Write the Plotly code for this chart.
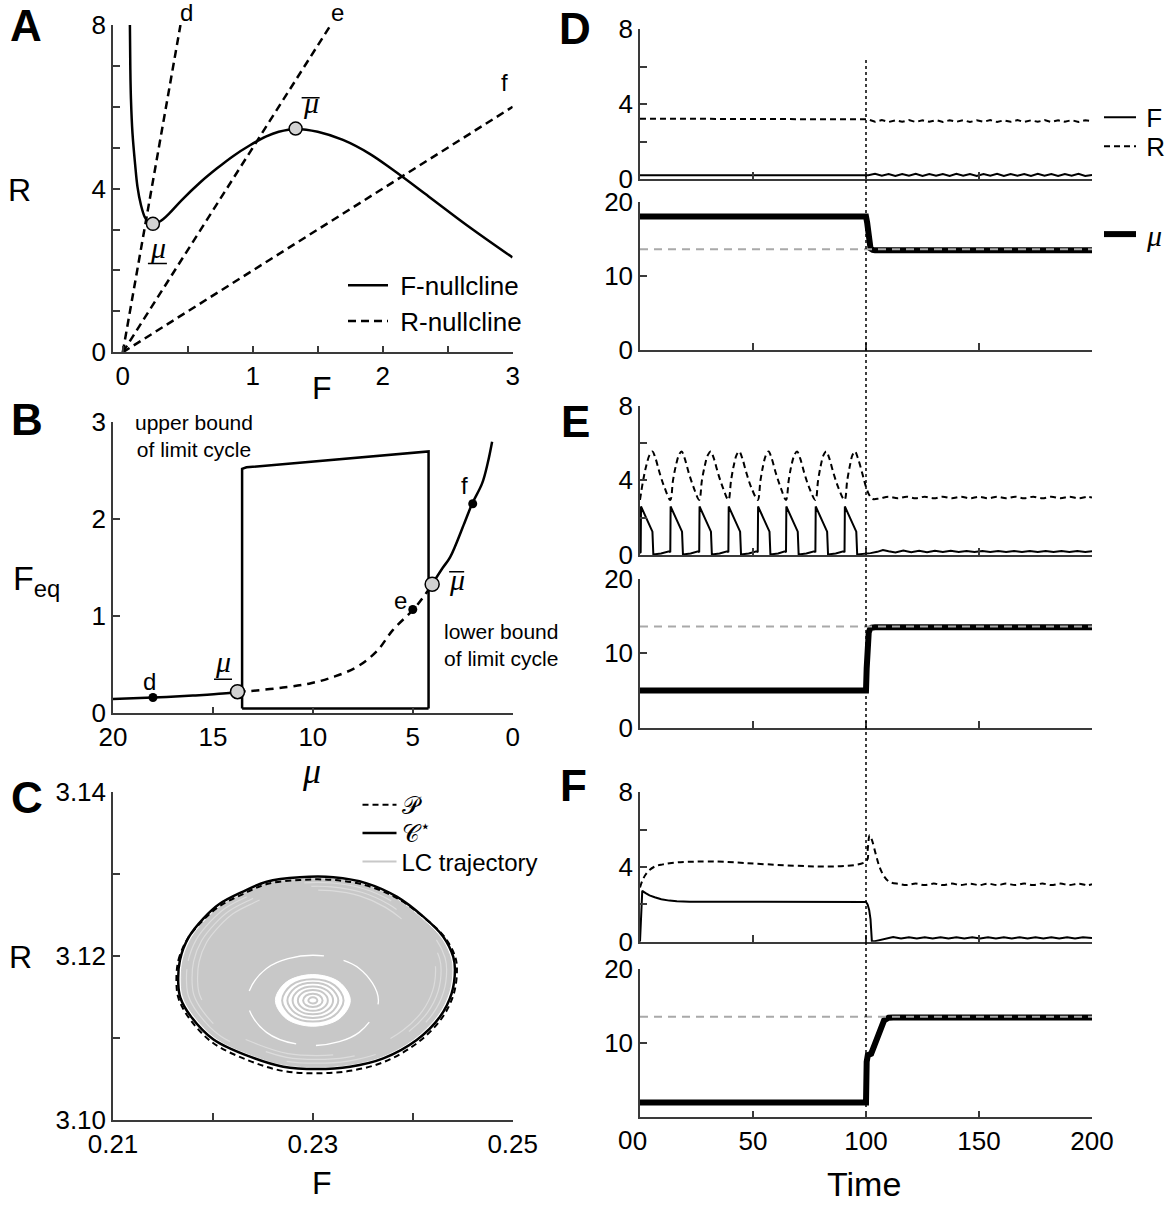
import plotly.graph_objects as go

W, H = 1171, 1205
SANS = "Liberation Sans, Arial, Helvetica, sans-serif"
SERIF = "Liberation Serif, Times New Roman, serif"
AXC = "#3a3a3a"
LCG = "#c8c8c8"
THG = "#a9a9a9"
NB = "\u00a0"

# ---------------- Panel A : nullclines ----------------
fnull_F = [0.055, 0.058, 0.063, 0.075, 0.095, 0.113, 0.14, 0.17, 0.20, 0.232, 0.27, 0.31, 0.36,
           0.454, 0.595, 0.723, 0.851, 0.979, 1.10, 1.20, 1.336, 1.50, 1.694, 1.90, 2.078, 2.353, 2.65, 2.998]
fnull_R = [8.0, 7.0, 6.2, 5.35, 4.6, 4.05, 3.6, 3.3, 3.17, 3.14, 3.17, 3.25, 3.40,
           3.72, 4.15, 4.49, 4.80, 5.06, 5.27, 5.39, 5.46, 5.39, 5.19, 4.85, 4.46, 3.81, 3.10, 2.32]
rnull_names = ["d", "e", "f"]
rnull_F_start = [0.0, 0.0, 0.0]
rnull_R_start = [0.0, 0.0, 0.0]
rnull_F_end = [0.444, 1.6, 3.0]
rnull_R_end = [8.0, 8.0, 6.0]
bifA_F = [0.232, 1.33]
bifA_R = [3.14, 5.47]

# ---------------- Panel B : bifurcation diagram ----------------
lowstab_mu = [20, 18, 16, 14.5, 13.77]
lowstab_F = [0.147, 0.163, 0.183, 0.203, 0.223]
unstab_mu = [13.77, 13.14, 11.5, 10.1, 8.9, 7.78, 6.8, 5.99, 4.97, 4.5, 4.03]
unstab_F = [0.223, 0.23, 0.265, 0.31, 0.38, 0.48, 0.64, 0.86, 1.07, 1.19, 1.33]
upstab_mu = [4.03, 3.5, 3.13, 2.42, 2.03, 1.53, 1.25, 1.03]
upstab_F = [1.33, 1.50, 1.61, 1.96, 2.16, 2.37, 2.58, 2.80]
lcup_mu = [13.54, 13.54, 13.32, 4.21, 4.21]
lcup_F = [0.05, 2.52, 2.536, 2.70, 0.05]
lclow_mu = [13.54, 4.21]
lclow_F = [0.05, 0.05]
pts_names = ["d", "e", "f"]
pts_mu = [18, 5, 2]
pts_F = [0.163, 1.07, 2.16]
bifB_mu = [13.77, 4.03]
bifB_F = [0.223, 1.33]

# ---------------- Panel C : limit cycle ----------------
cstar_F = [0.21653, 0.21670, 0.21758, 0.21906, 0.22068, 0.22290, 0.22538, 0.22871, 0.23205, 0.23539,
           0.23839, 0.24105, 0.24305, 0.24405, 0.24422, 0.24389, 0.24272, 0.24039, 0.23705, 0.23372,
           0.23038, 0.22704, 0.22371, 0.22006, 0.21776, 0.21675, 0.21653]
cstar_R = [3.11669, 3.11953, 3.12231, 3.12461, 3.12639, 3.12782, 3.12909, 3.12963, 3.12963, 3.12889,
           3.12726, 3.12482, 3.12238, 3.11993, 3.11831, 3.11547, 3.11261, 3.10977, 3.10753, 3.10651,
           3.10623, 3.10651, 3.10773, 3.10983, 3.11270, 3.11489, 3.11669]
P_F = [0.21635, 0.21655, 0.21750, 0.21903, 0.22070, 0.22295, 0.22540, 0.22871, 0.23205, 0.23539,
       0.23845, 0.24115, 0.24320, 0.24425, 0.24442, 0.24410, 0.24292, 0.24055, 0.23715, 0.23372,
       0.23038, 0.22704, 0.22360, 0.21990, 0.21758, 0.21657, 0.21635]
P_R = [3.11669, 3.11953, 3.12218, 3.12440, 3.12614, 3.12755, 3.12880, 3.12930, 3.12930, 3.12862,
       3.12705, 3.12470, 3.12230, 3.11990, 3.11831, 3.11540, 3.11245, 3.10950, 3.10710, 3.10600,
       3.10570, 3.10598, 3.10725, 3.10950, 3.11250, 3.11480, 3.11669]
cstar_center = (0.23038, 3.11793)
traj_fill_scale = 0.978
traj_light_scales = [0.86, 0.9, 0.94]
traj_center = (0.2300, 3.1146)
inner_F = [0.22625, 0.22735, 0.2300, 0.23265, 0.23375, 0.23265, 0.2300, 0.22735, 0.22625]
inner_R = [3.1146, 3.11683, 3.11775, 3.11683, 3.1146, 3.11237, 3.11145, 3.11237, 3.1146]
inner_ring_scales = [0.12, 0.26, 0.4, 0.54, 0.68, 0.82]
white_arc_scales = [1.75]

# ---------------- Panels D-F : time courses ----------------
event_time = 100
mu_threshold = 13.6

D_F_t = [0, 100, 101, 104, 107, 110, 113, 116, 119, 122, 125, 128, 131, 134, 137, 140, 143, 146, 149,
         152, 155, 158, 161, 164, 167, 170, 173, 176, 179, 182, 185, 188, 191, 194, 197, 200]
D_F = [0.2, 0.2, 0.2, 0.28, 0.17, 0.27, 0.16, 0.27, 0.17, 0.28, 0.16, 0.27, 0.17, 0.27, 0.16, 0.28, 0.17,
       0.27, 0.16, 0.27, 0.17, 0.28, 0.16, 0.27, 0.17, 0.27, 0.16, 0.28, 0.17, 0.27, 0.16, 0.27, 0.17,
       0.28, 0.16, 0.22]
D_R_t = D_F_t
D_R = [3.22, 3.22, 3.18, 3.05, 3.14, 3.04, 3.13, 3.05, 3.14, 3.04, 3.13, 3.05, 3.14, 3.04, 3.13, 3.05,
       3.14, 3.04, 3.13, 3.05, 3.14, 3.04, 3.13, 3.05, 3.14, 3.04, 3.13, 3.05, 3.14, 3.04, 3.13, 3.05,
       3.14, 3.04, 3.13, 3.08]
D_mu_t = [0, 100, 100.5, 101, 101.5, 102, 103, 104, 200]
D_mu = [18, 18, 17.2, 15.3, 14.2, 13.7, 13.5, 13.45, 13.45]

E_F_t = ([0,
          0.3, 0.45, 5.5, 5.9, 9.3, 12.9,
          13.4, 13.55, 18.6, 19.0, 22.4, 25.7,
          26.2, 26.35, 31.4, 31.8, 35.2, 38.6,
          39.1, 39.25, 44.3, 44.7, 48.1, 51.6,
          52.1, 52.25, 57.3, 57.7, 61.1, 64.1,
          64.6, 64.75, 69.8, 70.2, 73.6, 77.1,
          77.6, 77.75, 82.8, 83.2, 86.6, 90.0,
          90.5, 90.65, 95.7, 96.1, 99.5]
         + [102, 105, 107.5, 110, 113, 116.5, 120, 123.5, 127, 130.5, 134, 137.5, 141, 144.5, 148,
            151.5, 155, 158.5, 162, 165.5, 169, 172.5, 176, 179.5, 183, 186.5, 190, 193.5, 197, 200])
E_F = ([0.1,
        0.15, 2.6, 1.25, 0.03, 0.08, 0.2,
        0.15, 2.6, 1.25, 0.03, 0.08, 0.2,
        0.15, 2.6, 1.25, 0.03, 0.08, 0.2,
        0.15, 2.6, 1.25, 0.03, 0.08, 0.2,
        0.15, 2.6, 1.25, 0.03, 0.08, 0.2,
        0.15, 2.6, 1.25, 0.03, 0.08, 0.2,
        0.15, 2.6, 1.25, 0.03, 0.08, 0.2,
        0.15, 2.6, 1.25, 0.03, 0.06]
       + [0.1, 0.17, 0.27, 0.2, 0.14, 0.24, 0.15, 0.23, 0.15, 0.23, 0.16, 0.23, 0.16, 0.22, 0.16,
          0.22, 0.16, 0.22, 0.16, 0.22, 0.16, 0.22, 0.16, 0.22, 0.16, 0.22, 0.16, 0.22, 0.16, 0.2])
E_R_t = ([0, 1.4, 2.8, 4.2, 5.5, 6.8, 8.8, 10.9,
          13.4, 14.6, 15.9, 17.2, 18.4, 19.7, 21.7, 23.8,
          26.2, 27.4, 28.7, 30.0, 31.3, 32.6, 34.6, 36.7,
          39.1, 40.3, 41.5, 42.7, 43.9, 45.2, 47.2, 49.3,
          52.1, 53.3, 54.5, 55.7, 56.9, 58.2, 60.2, 62.3,
          64.6, 65.8, 67.0, 68.3, 69.5, 70.8, 72.8, 74.9,
          77.6, 78.8, 80.0, 81.2, 82.4, 83.7, 85.7, 87.8,
          90.5, 91.7, 92.9, 94.0, 95.1, 96.4, 98.4,
          100, 101.5, 103, 106]
         + [110, 114, 118, 122, 126, 130, 134, 138, 142, 146, 150, 154, 158, 162, 166, 170, 174, 178,
            182, 186, 190, 194, 198, 200])
E_R = ([2.95, 4.0, 4.8, 5.35, 5.55, 5.2, 4.35, 3.6,
        2.95, 4.0, 4.8, 5.35, 5.55, 5.2, 4.35, 3.6,
        2.95, 4.0, 4.8, 5.35, 5.55, 5.2, 4.35, 3.6,
        2.95, 4.0, 4.8, 5.35, 5.55, 5.2, 4.35, 3.6,
        2.95, 4.0, 4.8, 5.35, 5.55, 5.2, 4.35, 3.6,
        2.95, 4.0, 4.8, 5.35, 5.55, 5.2, 4.35, 3.6,
        2.95, 4.0, 4.8, 5.35, 5.55, 5.2, 4.35, 3.6,
        2.95, 4.0, 4.8, 5.35, 5.55, 5.2, 4.35,
        3.65, 3.2, 3.0, 3.03]
       + [3.12, 3.04, 3.12, 3.04, 3.12, 3.04, 3.12, 3.04, 3.12, 3.04, 3.12, 3.04, 3.12, 3.04, 3.12,
          3.04, 3.12, 3.04, 3.12, 3.04, 3.12, 3.04, 3.12, 3.08])
E_mu_t = [0, 100, 100.3, 100.7, 101.2, 101.8, 102.5, 104, 200]
E_mu = [5, 5, 8, 11.5, 12.8, 13.3, 13.45, 13.5, 13.5]

F_F_t = ([0, 0.5, 1.0, 2.5, 4.2, 6.5, 9.4, 13, 16.3, 22,
          100, 100.7, 101.4, 102.0, 102.3, 102.6,
          104, 107, 110, 112]
         + [115.5, 119, 122.5, 126, 129.5, 133, 136.5, 140, 143.5, 147, 150.5, 154, 157.5, 161,
            164.5, 168, 171.5, 175, 178.5, 182, 185.5, 189, 192.5, 196, 200])
F_F = ([0, 2.0, 2.72, 2.6, 2.48, 2.38, 2.27, 2.2, 2.16, 2.14,
        2.13, 2.0, 1.7, 1.2, 0.6, 0.02,
        0.03, 0.1, 0.2, 0.25]
       + [0.17, 0.24, 0.17, 0.24, 0.17, 0.24, 0.17, 0.24, 0.17, 0.24, 0.17, 0.24, 0.17, 0.24,
          0.17, 0.24, 0.17, 0.24, 0.17, 0.24, 0.17, 0.24, 0.17, 0.24, 0.2])
F_R_t = ([0, 1.0, 2.5, 4.2, 7, 10.1, 14, 20, 30, 100, 100.8, 101.6, 102.6, 104.3, 106, 108, 110.3, 114.6]
         + [118, 122, 126, 130, 134, 138, 142, 146, 150, 154, 158, 162, 166, 170, 174, 178, 182, 186,
            190, 194, 198, 200])
F_R = ([2.9, 3.25, 3.6, 3.84, 4.05, 4.14, 4.22, 4.27, 4.3, 4.3, 5.0, 5.7, 5.45, 4.7, 4.0, 3.5, 3.21, 3.09]
       + [3.03, 3.11, 3.03, 3.11, 3.03, 3.11, 3.03, 3.11, 3.03, 3.11, 3.03, 3.11, 3.03, 3.11, 3.03,
          3.11, 3.03, 3.11, 3.03, 3.11, 3.03, 3.08])
F_mu_t = [0, 100, 100.3, 100.8, 102.3, 103.5, 104.7, 106.5, 108, 110, 112, 200]
F_mu = [2, 2, 7.5, 8.4, 8.6, 9.6, 10.9, 12.3, 13.1, 13.45, 13.5, 13.5]

time_ticks = [0, 50, 100, 150, 200]

# ================= FIGURE =================
fig = go.Figure()


def ln(color="black", width=2.0, dash="solid"):
    return dict(color=color, width=width, dash=dash)


# ---- A ----
fig.add_trace(go.Scatter(x=fnull_F, y=fnull_R, mode="lines", line=ln(width=2.5), line_shape="spline",
                         name=NB + "F-nullcline", legend="legend", xaxis="x", yaxis="y"))
rx, ry = [], []
for xs, ys, xe, ye in zip(rnull_F_start, rnull_R_start, rnull_F_end, rnull_R_end):
    rx += [xs, xe, None]
    ry += [ys, ye, None]
fig.add_trace(go.Scatter(x=rx, y=ry, mode="lines", line=ln(width=2.5, dash="8px,5px"),
                         name=NB + "R-nullcline", legend="legend8", xaxis="x", yaxis="y"))
fig.add_trace(go.Scatter(x=bifA_F, y=bifA_R, mode="markers", showlegend=False,
                         marker=dict(size=13, color="#d2d2d2", line=dict(color="black", width=1.5)),
                         xaxis="x", yaxis="y"))

# ---- B ----
fig.add_trace(go.Scatter(x=lcup_mu, y=lcup_F, mode="lines", line=ln(width=2.5), showlegend=False,
                         xaxis="x2", yaxis="y2"))
fig.add_trace(go.Scatter(x=lclow_mu, y=lclow_F, mode="lines", line=ln(width=2.5), showlegend=False,
                         xaxis="x2", yaxis="y2"))
fig.add_trace(go.Scatter(x=lowstab_mu, y=lowstab_F, mode="lines", line=ln(width=2.5), line_shape="spline",
                         showlegend=False, xaxis="x2", yaxis="y2"))
fig.add_trace(go.Scatter(x=unstab_mu, y=unstab_F, mode="lines", line=ln(width=2.5, dash="8px,6px"),
                         line_shape="spline", showlegend=False, xaxis="x2", yaxis="y2"))
fig.add_trace(go.Scatter(x=upstab_mu, y=upstab_F, mode="lines", line=ln(width=2.5), line_shape="spline",
                         showlegend=False, xaxis="x2", yaxis="y2"))
fig.add_trace(go.Scatter(x=pts_mu, y=pts_F, mode="markers", showlegend=False,
                         marker=dict(size=9, color="black"), xaxis="x2", yaxis="y2"))
fig.add_trace(go.Scatter(x=bifB_mu, y=bifB_F, mode="markers", showlegend=False,
                         marker=dict(size=14, color="#d2d2d2", line=dict(color="black", width=1.5)),
                         xaxis="x2", yaxis="y2"))

# ---- C ----
cx, cy = cstar_center
fill_F = [cx + traj_fill_scale * (f - cx) for f in cstar_F]
fill_R = [cy + traj_fill_scale * (r - cy) for r in cstar_R]
fig.add_trace(go.Scatter(x=fill_F, y=fill_R, mode="lines", fill="toself", fillcolor=LCG,
                         line=dict(color=LCG, width=1), line_shape="spline", showlegend=False,
                         xaxis="x3", yaxis="y3"))
lt_x, lt_y = [], []
for s in traj_light_scales:
    lt_x += [cx + s * (f - cx) for f in cstar_F] + [None]
    lt_y += [cy + s * (r - cy) for r in cstar_R] + [None]
fig.add_trace(go.Scatter(x=lt_x, y=lt_y, mode="lines", line=dict(color="#dcdcdc", width=1.2, dash="90px,60px"),
                         line_shape="spline", showlegend=False, xaxis="x3", yaxis="y3"))
tx, ty = traj_center
wa_x, wa_y = [], []
for s in white_arc_scales:
    wa_x += [tx + s * (f - tx) for f in inner_F] + [None]
    wa_y += [ty + s * (r - ty) for r in inner_R] + [None]
fig.add_trace(go.Scatter(x=wa_x, y=wa_y, mode="lines", line=dict(color="white", width=1.3, dash="60px,20px"),
                         line_shape="spline", showlegend=False, xaxis="x3", yaxis="y3"))
fig.add_trace(go.Scatter(x=inner_F, y=inner_R, mode="lines", fill="toself", fillcolor="white",
                         line=dict(color="white", width=1), line_shape="spline", showlegend=False,
                         xaxis="x3", yaxis="y3"))
ir_x, ir_y = [], []
for s in inner_ring_scales:
    ir_x += [tx + s * (f - tx) for f in inner_F] + [None]
    ir_y += [ty + s * (r - ty) for r in inner_R] + [None]
fig.add_trace(go.Scatter(x=ir_x, y=ir_y, mode="lines", line=dict(color=LCG, width=2),
                         line_shape="spline", name="LC trajectory", legend="legend6",
                         xaxis="x3", yaxis="y3"))
fig.add_trace(go.Scatter(x=P_F, y=P_R, mode="lines", line=ln(width=2, dash="6px,4px"), line_shape="spline",
                         name="\U0001D4AB", legend="legend2", xaxis="x3", yaxis="y3"))
fig.add_trace(go.Scatter(x=cstar_F, y=cstar_R, mode="lines", line=ln(width=2.5), line_shape="spline",
                         name="\U0001D49E<sup>\u22c6</sup>", legend="legend5",
                         xaxis="x3", yaxis="y3"))

# ---- D/E/F ----
panels = [
    (D_F_t, D_F, D_R_t, D_R, D_mu_t, D_mu, "4", "5"),
    (E_F_t, E_F, E_R_t, E_R, E_mu_t, E_mu, "6", "7"),
    (F_F_t, F_F, F_R_t, F_R, F_mu_t, F_mu, "8", "9"),
]
for i, (ft, fv, rt, rv, mt, mv, up, lo) in enumerate(panels):
    first = i == 0
    fig.add_trace(go.Scatter(x=rt, y=rv, mode="lines", line=ln(width=2, dash="6px,4px"),
                             line_shape="spline" if i > 0 else "linear",
                             name="\u2009R", legend="legend7", showlegend=first,
                             xaxis="x" + up, yaxis="y" + up))
    fig.add_trace(go.Scatter(x=ft, y=fv, mode="lines", line=ln(width=2),
                             name="\u2009F", legend="legend3", showlegend=first,
                             xaxis="x" + up, yaxis="y" + up))
    fig.add_trace(go.Scatter(x=mt, y=mv, mode="lines", line=ln(width=6),
                             name="\u2009<i>\u03bc</i>", legend="legend4", showlegend=first,
                             xaxis="x" + lo, yaxis="y" + lo))
    fig.add_trace(go.Scatter(x=[time_ticks[0], time_ticks[-1]], y=[mu_threshold, mu_threshold],
                             mode="lines", line=dict(color=THG, width=2, dash="8px,6px"),
                             showlegend=False, xaxis="x" + lo, yaxis="y" + lo))


# ================= LAYOUT =================
def dx(p0, p1):
    return [p0 / W, p1 / W]


def dy(top, bottom):
    return [1 - bottom / H, 1 - top / H]


def axis(**kw):
    base = dict(showline=True, linecolor=AXC, linewidth=1.5, ticks="inside", ticklen=7, tickwidth=1.5,
                tickcolor=AXC, showgrid=False, zeroline=False, fixedrange=True, automargin=False,
                tickfont=dict(family=SANS, size=26, color="black"))
    base.update(kw)
    return base


LX = dx(113, 512.7)
RX = dx(640, 1092)
layout = dict(
    width=W, height=H, margin=dict(l=0, r=0, t=0, b=0, autoexpand=False),
    paper_bgcolor="white", plot_bgcolor="rgba(0,0,0,0)",
    font=dict(family=SANS, color="black"),
    xaxis=axis(domain=LX, anchor="y", range=[-0.075, 3.0], tickvals=[0, 0.5, 1, 1.5, 2, 2.5, 3],
               ticktext=["0", "", "1", "", "2", "", "3"]),
    yaxis=axis(domain=dy(25, 352.3), anchor="x", range=[0, 8], tickvals=list(range(9)),
               ticktext=["0", "", "", "", "4", "", "", "", "8"]),
    xaxis2=axis(domain=LX, anchor="y2", range=[20, 0], tickvals=[20, 15, 10, 5, 0]),
    yaxis2=axis(domain=dy(422.3, 713.3), anchor="x2", range=[0, 3], tickvals=[0, 1, 2, 3]),
    xaxis3=axis(domain=LX, anchor="y3", range=[0.21, 0.25], tickvals=[0.21, 0.22, 0.23, 0.24, 0.25],
                ticktext=["0.21", "", "0.23", "", "0.25"]),
    yaxis3=axis(domain=dy(792.3, 1120), anchor="x3", range=[3.10, 3.14],
                tickvals=[3.10, 3.11, 3.12, 3.13, 3.14], ticktext=["3.10", "", "3.12", "", "3.14"]),
)
rows = [("4", 29, 179, "up"), ("5", 201.7, 350, "lo"), ("6", 405.7, 555, "up"), ("7", 579, 727.7, "lo"),
        ("8", 792.3, 941.7, "up"), ("9", 969.3, 1117.3, "lo")]
for k, top, bot, kind in rows:
    showlab = k == "9"
    layout["xaxis" + k] = axis(domain=RX, anchor="y" + k, range=[0, 200], tickvals=time_ticks,
                               showticklabels=showlab)
    if kind == "up":
        layout["yaxis" + k] = axis(domain=dy(top, bot), anchor="x" + k, range=[0, 8],
                                   tickvals=[0, 2, 4, 6, 8], ticktext=["0", "", "4", "", "8"])
    else:
        layout["yaxis" + k] = axis(domain=dy(top, bot), anchor="x" + k, range=[0, 20],
                                   tickvals=[0, 10, 20],
                                   ticktext=["", "10", "20"] if k == "9" else ["0", "10", "20"])


def legend_at(line_start, center, size, family=SANS, itemwidth=30):
    return dict(bgcolor="rgba(0,0,0,0)", borderwidth=0, xanchor="left", yanchor="top",
                x=(line_start - 5) / W, y=1 - (center - 0.93 * size) / H,
                font=dict(family=family, size=size), itemwidth=itemwidth)


layout["legend"] = legend_at(348, 286, 26, itemwidth=40)
layout["legend8"] = legend_at(348, 321.7, 26, itemwidth=40)
layout["legend2"] = legend_at(362.5, 805, 24, itemwidth=34)
layout["legend5"] = legend_at(362.5, 833.3, 24, itemwidth=34)
layout["legend6"] = legend_at(362.5, 861.7, 24, itemwidth=34)
layout["legend3"] = legend_at(1104, 118, 26, itemwidth=32)
layout["legend7"] = legend_at(1104, 147, 26, itemwidth=32)
layout["legend4"] = legend_at(1104, 236, 30, family=SERIF, itemwidth=32)


def ann(text, x, y, size=26, family=SANS, **kw):
    d = dict(text=text, x=x / W, y=1 - y / H, xref="paper", yref="paper", showarrow=False,
             font=dict(size=size, family=family, color="black"), xanchor="center", yanchor="middle")
    d.update(kw)
    return d


def dann(text, x, y, xr, yr, xs, ys, size=24, family=SANS):
    return dict(text=text, x=x, y=y, xref=xr, yref=yr, xshift=xs, yshift=ys, showarrow=False,
                font=dict(size=size, family=family, color="black"), xanchor="center", yanchor="middle")


annotations = [
    ann("<b>A</b>", 25.5, 25, 44), ann("<b>B</b>", 27, 419, 44), ann("<b>C</b>", 27, 797, 44),
    ann("<b>D</b>", 575, 28, 44), ann("<b>E</b>", 575, 421, 44), ann("<b>F</b>", 573, 785, 44),
    ann("R", 19, 190, 32), ann("F", 322, 388, 32),
    ann("F<sub>eq</sub>", 36, 580, 34), ann("<i>\u03bc</i>", 311, 771, 36, SERIF),
    ann("R", 20, 957, 32), ann("F", 322, 1183, 32),
    ann("Time", 864, 1184, 34), ann("0", 625, 1140, 26),
    ann("upper bound<br>of limit cycle", 194, 436, 21),
    ann("lower bound<br>of limit cycle", 501, 645, 21),
]
a_shifts = [(6, 13), (7, 13), (-8, 24)]
for nm, fe, re, (sx, sy) in zip(rnull_names, rnull_F_end, rnull_R_end, a_shifts):
    annotations.append(dann(nm, fe, re, "x", "y", sx, sy))
b_shifts = [(-3, 16), (-12, 9), (-8, 18)]
for nm, m, f, (sx, sy) in zip(pts_names, pts_mu, pts_F, b_shifts):
    annotations.append(dann(nm, m, f, "x2", "y2", sx, sy))

# mu-bar labels at the two bifurcation points: (x anchor, y anchor, axes, label shift, bar x0, x1, bar y)
mu_labels = [
    (bifA_F[0], bifA_R[0], "x", "y", (5, -24), (-5, 14, -39.6)),
    (bifA_F[1], bifA_R[1], "x", "y", (15, 26), (6, 24, 30.7)),
    (bifB_mu[0], bifB_F[0], "x2", "y2", (-14.5, 30), (-23.5, -5.5, 12.4)),
    (bifB_mu[1], bifB_F[1], "x2", "y2", (25, 4.5), (17, 32, 12.6)),
]
shapes = [dict(type="line", xref="x4", yref="paper", x0=event_time, x1=event_time,
               y0=1 - 1107 / H, y1=1 - 60 / H, line=dict(color="black", width=1.5, dash="dot"),
               layer="above")]
for xa, ya, xr, yr, (sx, sy), (b0, b1, by) in mu_labels:
    annotations.append(dann("<i>\u03bc</i>", xa, ya, xr, yr, sx, sy, 30, SERIF))
    shapes.append(dict(type="line", xref=xr, yref=yr, xsizemode="pixel", ysizemode="pixel",
                       xanchor=xa, yanchor=ya, x0=b0, x1=b1, y0=by, y1=by,
                       line=dict(color="black", width=1.5)))
layout["annotations"] = annotations
layout["shapes"] = shapes

fig.update_layout(**layout)
fig.write_html("out.html", config={"displayModeBar": False},
               post_script="document.body.style.margin='0px';")
